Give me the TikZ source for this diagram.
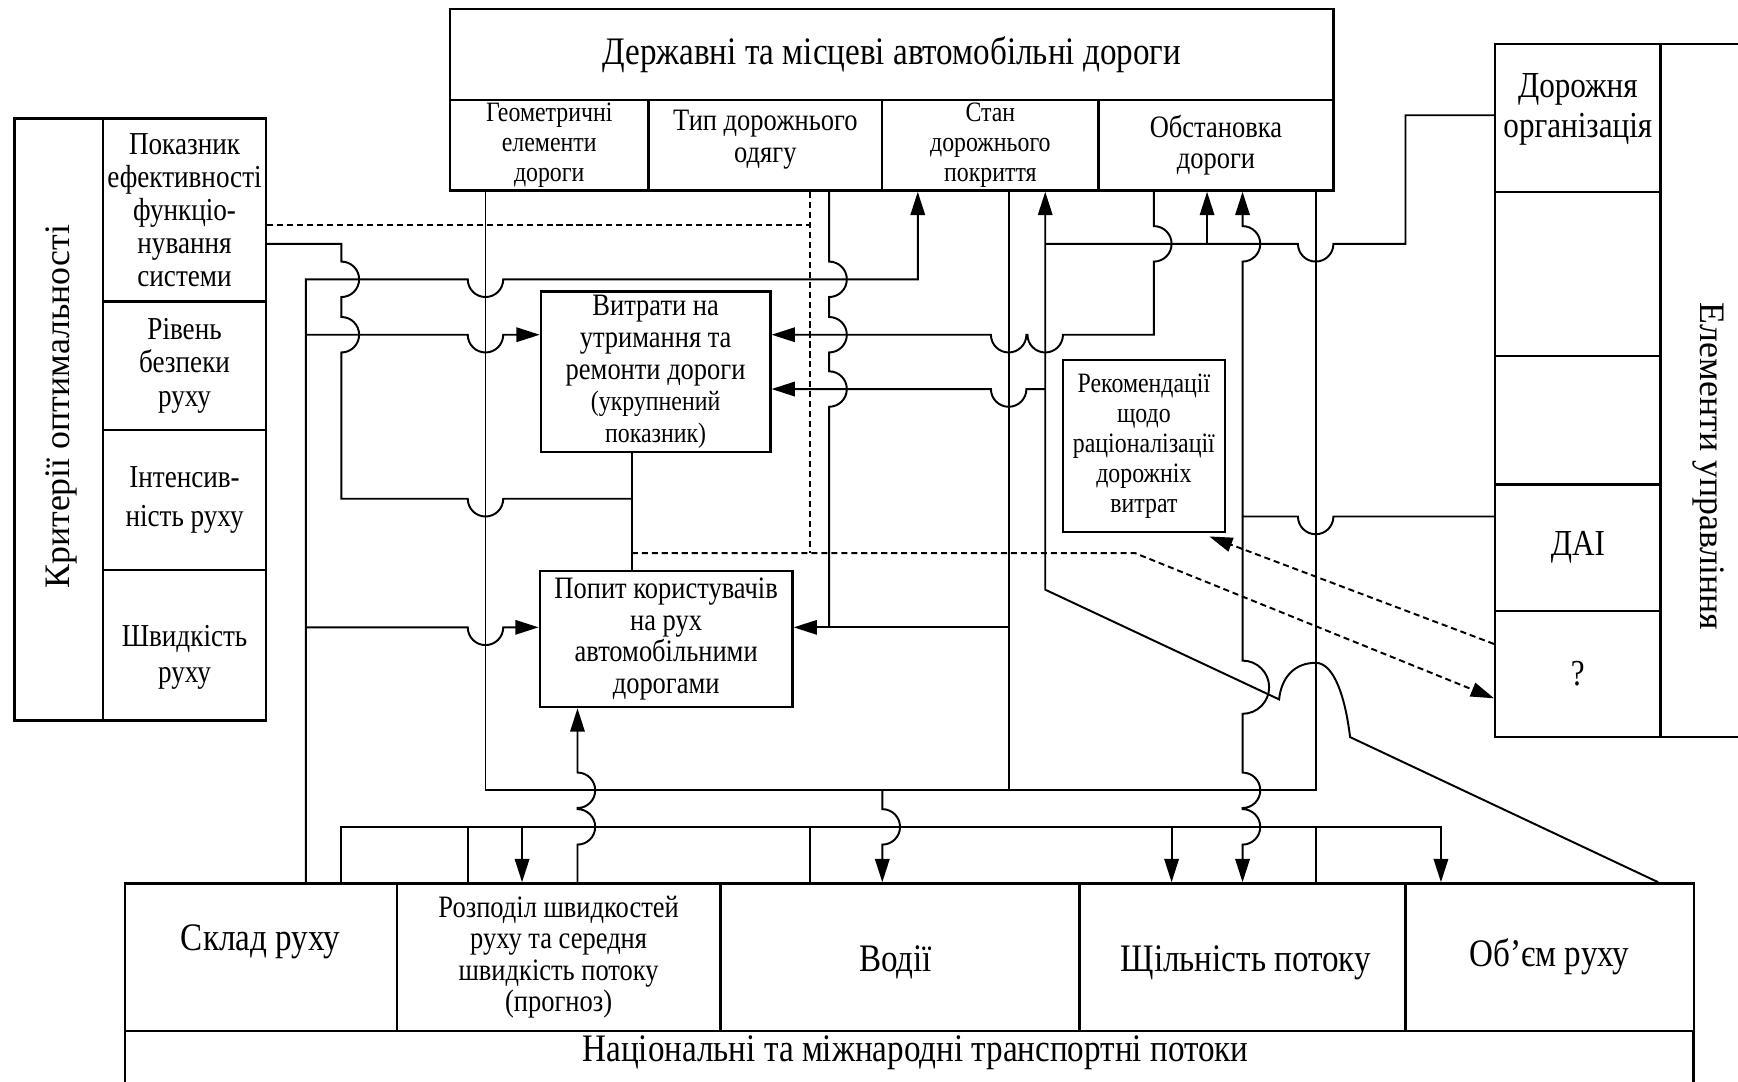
\documentclass[tikz,border=0pt]{standalone}
\usepackage{fontspec}
\setmainfont{Liberation Serif}[FakeStretch=0.85]
\newfontfamily\sidefont{Liberation Serif}
\usetikzlibrary{arrows.meta}

\tikzset{
  cell/.style = {draw, line width=0.6pt, inner sep=0pt, align=center},
  wire/.style = {line width=0.5pt},
  dashwire/.style = {line width=0.5pt, dash pattern=on 0.55mm off 0.35mm},
  arr/.style = {-{Triangle[length=2.1mm, width=1.3mm]}},
  fbig/.style = {font=\fontsize{10}{11.5}\selectfont},
  fright/.style = {font=\fontsize{9.4}{10.2}\selectfont},
  fleft/.style = {font=\fontsize{8.2}{8.5}\selectfont},
  fmid/.style = {font=\fontsize{8}{8.1}\selectfont},
  fsmall/.style = {font=\fontsize{7.2}{7.7}\selectfont},
  fside/.style = {font=\sidefont\fontsize{9.2}{11}\selectfont},
}

\begin{document}
\begin{tikzpicture}[x=0.1mm, y=-0.1mm]
\useasboundingbox (0,0) rectangle (1568,976);
\def\hopr{16}
\def\dipR#1#2{-- ({#1-\hopr},#2) arc[start angle=180, end angle=0, radius=\hopr]}
\def\dipL#1#2{-- ({#1+\hopr},#2) arc[start angle=0, end angle=180, radius=\hopr]}
\def\bumpD#1#2{-- (#1,{#2-\hopr}) arc[start angle=-90, end angle=90, radius=\hopr]}
\def\bumpU#1#2{-- (#1,{#2+\hopr}) arc[start angle=90, end angle=-90, radius=\hopr]}

% roads
\node[cell, fbig, minimum width=79.7mm, minimum height=8.2mm] (roads) at (804.5,49) {Державні та місцеві автомобільні дороги};
\node[cell, fsmall, minimum width=17.9mm, minimum height=8.2mm] (geom) at (495.5,131) {Геометричні\\елементи\\дороги};
\node[cell, minimum width=21.1mm, minimum height=8.2mm] (odyag) at (690.5,131) {};
\node[fmid, align=center] (odyagtext) at (690.5,126) {Тип дорожнього\\одягу};
\node[cell, fsmall, minimum width=19.5mm, minimum height=8.2mm] (stan) at (893.5,131) {Стан\\дорожнього\\покриття};
\node[cell, fmid, minimum width=21.2mm, minimum height=8.2mm] (obst) at (1097,131) {Обстановка\\дороги};

% criteria
\node[cell, minimum width=8mm, minimum height=54.3mm] (kryt) at (53,378.5) {};
\node[fside, rotate=90] (krytlabel) at (55,367) {Критерії оптимальності};
\node[cell, fleft, minimum width=14.7mm, minimum height=16.5mm] (pokaz) at (166.5,189.5) {Показник\\ефективності\\функціо-\\нування\\системи};
\node[cell, fleft, minimum width=14.7mm, minimum height=11.6mm] (riven) at (166.5,330) {Рівень\\безпеки\\руху};
\node[cell, fleft, minimum width=14.7mm, minimum height=12.6mm] (intens) at (166.5,451) {Інтенсив-\\[0.5mm]ність руху};
\node[cell, minimum width=14.7mm, minimum height=13.6mm] (shvyd) at (166.5,582) {};
\node[fleft, align=center] (shvydtext) at (166.5,593) {Швидкість\\[0.3mm]руху};

% management
\node[cell, minimum width=14.9mm, minimum height=13.3mm] (dorg) at (1423.5,106.5) {};
\node[fright, align=center] (dorgtext) at (1423.5,99) {Дорожня\\організація};
\node[cell, minimum width=14.9mm, minimum height=14.8mm] (empty1) at (1423.5,247) {};
\node[cell, minimum width=14.9mm, minimum height=11.6mm] (empty2) at (1423.5,379) {};
\node[cell, fright, minimum width=14.9mm, minimum height=11.4mm] (dai) at (1423.5,494) {ДАІ};
\node[cell, fright, minimum width=14.9mm, minimum height=11.4mm] (quest) at (1423.5,608) {?};
\node[cell, minimum width=10.2mm, minimum height=62.5mm] (elem) at (1549,352.5) {};
\node[fside, rotate=-90] (elemlabel) at (1541,421) {Елементи управління};

% flows
\node[cell, minimum width=24.5mm, minimum height=13.3mm] (sklad) at (235.5,863.5) {};
\node[fbig] (skladtext) at (235,850) {Склад руху};
\node[cell, fmid, minimum width=29.2mm, minimum height=13.3mm] (rozpod) at (504,863.5) {Розподіл швидкостей\\руху та середня\\швидкість потоку\\(прогноз)};
\node[cell, minimum width=32.4mm, minimum height=13.3mm] (vodii) at (812,863.5) {};
\node[fbig] (vodiitext) at (808,868) {Водії};
\node[cell, minimum width=29.4mm, minimum height=13.3mm] (shchil) at (1121,863.5) {};
\node[fbig] (shchiltext) at (1124,869) {Щільність потоку};
\node[cell, fbig, minimum width=26mm, minimum height=13.3mm] (obyem) at (1398,863.5) {Об’єм руху};
\node[cell, minimum width=141.5mm, minimum height=6.5mm] (potoky) at (820.5,962.5) {};
\node[fbig] (potokylabel) at (826,950) {Національні та міжнародні транспортні потоки};

% inner boxes
\node[cell, fmid, minimum width=20.7mm, minimum height=14.5mm] (vytraty) at (591.5,335.5) {Витрати на\\утримання та\\ремонти дороги\\{\fontsize{7.2}{8}\selectfont (укрупнений}\\{\fontsize{7.2}{8}\selectfont показник)}};
\node[cell, fmid, minimum width=22.8mm, minimum height=12.3mm] (popyt) at (601,576.5) {Попит користувачів\\на рух\\автомобільними\\дорогами};
\node[cell, fsmall, minimum width=14.6mm, minimum height=15.5mm] (rekom) at (1032,402.5) {Рекомендації\\щодо\\раціоналізації\\дорожніх\\витрат};
\coordinate (rekomtip) at (1091,484);

% left links
\draw[wire, arr] (276,0 |- sklad.north) -- (276,252) \dipR{438}{252} -- (828,252) -- (828,0 |- stan.south);
\draw[wire, arr] (276,302) \dipR{438}{302} -- (vytraty.west |- 0,302);
\draw[wire, arr] (276,566) \dipR{438}{566} -- (popyt.west |- 0,566);
\draw[wire] (pokaz.east |- 0,220) -- (308,220) \bumpD{308}{252} \bumpD{308}{302} -- (308,450) \dipR{438}{450} -- (570,450);
\draw[wire] (vytraty.south -| 570,0) -- (popyt.north -| 570,0);

% dashed links
\draw[dashwire] (pokaz.east |- 0,203) -- (731,203);
\draw[dashwire] (731,0 |- odyag.south) -- (731,499);
\draw[dashwire, arr] (570,499) -- (1024,499) -- (quest.west |- 0,630);
\draw[dashwire, arr] (quest.west |- 0,581) -- (rekomtip);

% road links
\draw[wire] (748,0 |- odyag.south) \bumpD{748}{252} \bumpD{748}{302} \bumpD{748}{351} -- (748,566);
\draw[wire, arr] (910,566) -- (popyt.east |- 0,566);
\draw[wire] (910,0 |- stan.south) -- (910,713);
\draw[wire] (438,0 |- geom.south) -- (438,713) -- (1187,713) -- (1187,0 |- obst.south);
\draw[wire, arr] (1041,0 |- obst.south) \bumpD{1041}{220} -- (1041,302) \dipL{943}{302} \dipL{910}{302} -- (vytraty.east |- 0,302);
\draw[wire, arr] (943,351) \dipL{910}{351} -- (vytraty.east |- 0,351);
\draw[wire, arr] (1496,0 |- obyem.north) -- (1218,665) .. controls (1214,631) and (1204,598) .. (1187,598) .. controls (1168,598) and (1156,611) .. (1154,631) -- (943,532) -- (943,0 |- stan.south);

% management links
\draw[wire] (dorg.west |- 0,104) -- (1268,104) -- (1268,220) \dipL{1187}{220} -- (943,220);
\draw[wire, arr] (1089,220) -- (1089,0 |- obst.south);
\draw[wire, arr] (dai.west |- 0,466) \dipL{1187}{466} -- (1121,466) \bumpU{1121}{220} -- (1121,0 |- obst.south);
\draw[wire, arr] (1121,466) -- (1121,596) arc[start angle=-90, end angle=90, radius=24] \bumpD{1121}{713} \bumpD{1121}{746} -- (1121,0 |- shchil.north);

% flow links
\draw[wire, arr] (796,713) \bumpD{796}{746} -- (796,0 |- vodii.north);
\draw[wire, arr] (308,0 |- sklad.north) -- (308,746) -- (1300,746) -- (1300,0 |- obyem.north);
\draw[wire] (422,746) -- (422,0 |- rozpod.north);
\draw[wire] (731,746) -- (731,0 |- vodii.north);
\draw[wire] (1187,746) -- (1187,0 |- shchil.north);
\draw[wire, arr] (471,746) -- (471,0 |- rozpod.north);
\draw[wire, arr] (1057,746) -- (1057,0 |- shchil.north);
\draw[wire, arr] (521,0 |- rozpod.north) \bumpU{521}{746} \bumpU{521}{713} -- (521,0 |- popyt.south);
\end{tikzpicture}
\end{document}
